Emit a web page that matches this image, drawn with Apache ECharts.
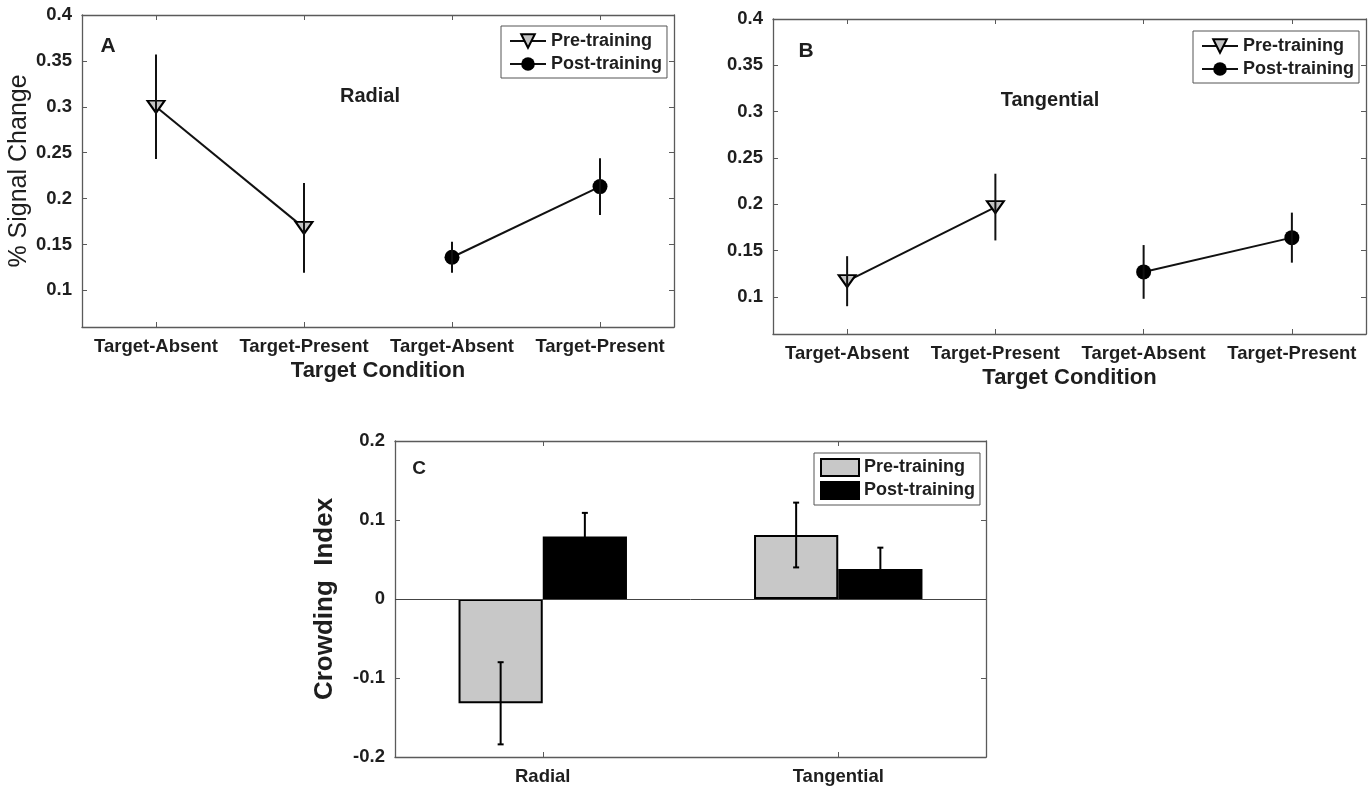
<!DOCTYPE html>
<html><head><meta charset="utf-8">
<script src="https://cdn.jsdelivr.net/npm/echarts@6/dist/echarts.min.js"></script>
<style>html,body{margin:0;padding:0;background:#fff}#chart{width:1368px;height:788px}</style>
</head><body><div id="chart"></div>
<script>
// ---- data ----
const conditionLabels = ['Target-Absent', 'Target-Present', 'Target-Absent', 'Target-Present'];
const radialPre = [0.300, 0.168];
const radialPreErr = [0.057, 0.049];
const radialPost = [0.136, 0.213];
const radialPostErr = [0.017, 0.031];
const tangPre = [0.117, 0.197];
const tangPreErr = [0.027, 0.036];
const tangPost = [0.127, 0.164];
const tangPostErr = [0.029, 0.027];
const crowdCategories = ['Radial', 'Tangential'];
const crowdPre = [-0.132, 0.081];
const crowdPreErr = [0.052, 0.041];
const crowdPost = [0.079, 0.038];
const crowdPostErr = [0.030, 0.027];
const signalTicks = [0.1, 0.15, 0.2, 0.25, 0.3, 0.35, 0.4];
const crowdTicks = [-0.2, -0.1, 0, 0.1, 0.2];

// ---- style ----
const FONT = '"Liberation Sans", Arial, Helvetica, sans-serif';
const AXIS_COLOR = '#5a5a5a';
const TEXT_COLOR = '#1e1e1e';
const BAR_FRAC = 0.285;
const fmt = v => String(parseFloat((+v).toFixed(2)));

function placed(vals, start) {
  const arr = conditionLabels.map(() => '-');
  vals.forEach((v, i) => { arr[start + i] = v; });
  return arr;
}
function errData(vals, errs, start) {
  return vals.map((v, i) => [start + i, v - errs[i], v + errs[i]]);
}
function vErr(params, api) {
  const x = api.value(0);
  const a = api.coord([x, api.value(1)]);
  const b = api.coord([x, api.value(2)]);
  return { type: 'line', shape: { x1: a[0], y1: a[1], x2: b[0], y2: b[1] },
           style: { stroke: '#111', lineWidth: 2 } };
}
function barErr(sign) {
  return function (params, api) {
    const x = api.value(0);
    const bw = api.size([1, 0])[0] * BAR_FRAC;
    const a = api.coord([x, api.value(1)]);
    const b = api.coord([x, api.value(2)]);
    const cx = a[0] + sign * bw / 2;
    const cap = 3;
    const st = { stroke: '#000', lineWidth: 2 };
    return { type: 'group', children: [
      { type: 'line', shape: { x1: cx, y1: a[1], x2: cx, y2: b[1] }, style: st },
      { type: 'line', shape: { x1: cx - cap, y1: a[1], x2: cx + cap, y2: a[1] }, style: st },
      { type: 'line', shape: { x1: cx - cap, y1: b[1], x2: cx + cap, y2: b[1] }, style: st }
    ] };
  };
}

const grids = [
  { left: 82, top: 15, width: 592, height: 312 },
  { left: 773, top: 19, width: 593, height: 315 },
  { left: 395, top: 441, width: 591, height: 316 }
];

const labelStyle = { fontFamily: FONT, fontSize: 18.5, fontWeight: 'bold', color: TEXT_COLOR };
const axisLine = { show: true, onZero: false, lineStyle: { color: AXIS_COLOR, width: 1.3 } };

function catAxes(gi, data, withName) {
  return [
    { type: 'category', gridIndex: gi, data: data, position: 'bottom',
      axisLine: axisLine,
      axisTick: { show: true, inside: true, alignWithLabel: true, length: 5, lineStyle: { color: AXIS_COLOR } },
      axisLabel: Object.assign({ margin: 10, interval: 0 }, labelStyle),
      splitLine: { show: false },
      name: withName ? 'Target Condition' : '', nameLocation: 'middle', nameGap: 33,
      nameTextStyle: { fontFamily: FONT, fontSize: 22, fontWeight: 'bold', color: TEXT_COLOR } },
    { type: 'category', gridIndex: gi, data: data, position: 'top',
      axisLine: axisLine,
      axisTick: { show: true, inside: true, alignWithLabel: true, length: 5, lineStyle: { color: AXIS_COLOR } },
      axisLabel: { show: false }, splitLine: { show: false } }
  ];
}
function valAxes(gi, min, max, ticks, name, nameOpts) {
  const base = { type: 'value', gridIndex: gi, min: min, max: max, scale: true, splitLine: { show: false }, axisLine: axisLine };
  return [
    Object.assign({}, base, { position: 'left',
      axisTick: { show: true, inside: true, length: 5, customValues: ticks, lineStyle: { color: AXIS_COLOR } },
      axisLabel: Object.assign({ margin: 10, customValues: ticks, formatter: fmt }, labelStyle),
      name: name || '', nameLocation: 'middle', nameRotate: 90,
      nameGap: nameOpts ? nameOpts.gap : 0,
      nameTextStyle: nameOpts ? nameOpts.style : {} }),
    Object.assign({}, base, { position: 'right',
      axisTick: { show: true, inside: true, length: 5, customValues: ticks, lineStyle: { color: AXIS_COLOR } },
      axisLabel: { show: false } })
  ];
}

const xAxes = [].concat(catAxes(0, conditionLabels, true), catAxes(1, conditionLabels, true), catAxes(2, crowdCategories, false));
const yAxes = [].concat(
  valAxes(0, 0.06, 0.4, signalTicks, '% Signal Change',
    { gap: 47, style: { fontFamily: FONT, fontSize: 25, fontWeight: 'normal', color: TEXT_COLOR } }),
  valAxes(1, 0.06, 0.4, signalTicks, '', null),
  valAxes(2, -0.2, 0.2, crowdTicks, 'Crowding  Index',
    { gap: 57, style: { fontFamily: FONT, fontSize: 26, fontWeight: 'bold', color: TEXT_COLOR } })
);

function lineSeries(prefix, gi, pre, preErr, post, postErr) {
  return [
    { type: 'line', name: prefix + '|Pre-training', xAxisIndex: gi * 2, yAxisIndex: gi * 2,
      data: placed(pre, 0), connectNulls: false,
      symbol: 'triangle', symbolRotate: 180, symbolSize: [17, 12],
      lineStyle: { color: '#111', width: 2 },
      itemStyle: { color: '#c4c4c4', borderColor: '#000', borderWidth: 2 }, z: 3 },
    { type: 'line', name: prefix + '|Post-training', xAxisIndex: gi * 2, yAxisIndex: gi * 2,
      data: placed(post, 2),
      symbol: 'circle', symbolSize: 15,
      lineStyle: { color: '#111', width: 2 },
      itemStyle: { color: '#000', borderColor: '#000', borderWidth: 0 }, z: 3 },
    { type: 'custom', name: prefix + '|errPre', xAxisIndex: gi * 2, yAxisIndex: gi * 2,
      data: errData(pre, preErr, 0), encode: { x: 0, y: [1, 2] }, renderItem: vErr, z: 5, silent: true },
    { type: 'custom', name: prefix + '|errPost', xAxisIndex: gi * 2, yAxisIndex: gi * 2,
      data: errData(post, postErr, 2), encode: { x: 0, y: [1, 2] }, renderItem: vErr, z: 5, silent: true }
  ];
}

const series = [].concat(
  lineSeries('A', 0, radialPre, radialPreErr, radialPost, radialPostErr),
  lineSeries('B', 1, tangPre, tangPreErr, tangPost, tangPostErr),
  [
    { type: 'bar', name: 'C|Pre-training', xAxisIndex: 4, yAxisIndex: 4, data: crowdPre,
      barWidth: (BAR_FRAC * 100) + '%', barGap: '0%',
      itemStyle: { color: '#c8c8c8', borderColor: '#000', borderWidth: 2 },
      markLine: { silent: true, symbol: ['none', 'none'], label: { show: false },
        lineStyle: { color: '#444', width: 1, type: 'solid' }, data: [{ yAxis: 0 }] } },
    { type: 'bar', name: 'C|Post-training', xAxisIndex: 4, yAxisIndex: 4, data: crowdPost,
      barWidth: (BAR_FRAC * 100) + '%', barGap: '0%',
      itemStyle: { color: '#000', borderColor: '#000', borderWidth: 2 } },
    { type: 'custom', name: 'C|errPre', xAxisIndex: 4, yAxisIndex: 4,
      data: crowdPre.map((v, i) => [i, v - crowdPreErr[i], v + crowdPreErr[i]]),
      encode: { x: 0, y: [1, 2] }, renderItem: barErr(-1), z: 5, silent: true },
    { type: 'custom', name: 'C|errPost', xAxisIndex: 4, yAxisIndex: 4,
      data: crowdPost.map((v, i) => [i, v - crowdPostErr[i], v + crowdPostErr[i]]),
      encode: { x: 0, y: [1, 2] }, renderItem: barErr(1), z: 5, silent: true }
  ]
);

const legendText = { fontFamily: FONT, fontSize: 18, fontWeight: 'bold', color: TEXT_COLOR };
function mkLegend(prefix, left, top, opts) {
  return Object.assign({
    left: left, top: top, orient: 'vertical', selectedMode: false,
    data: [prefix + '|Pre-training', prefix + '|Post-training'],
    formatter: n => n.split('|')[1],
    itemWidth: 36, itemHeight: 17, itemGap: 5, padding: [6, 5, 5, 8],
    borderColor: '#555', borderWidth: 1, backgroundColor: '#fff', borderRadius: 0,
    textStyle: legendText
  }, opts || {});
}

function txt(text, x, y, size) {
  return { type: 'text', x: x, y: y, silent: true,
    style: { text: text, fill: TEXT_COLOR, font: 'bold ' + size + 'px ' + FONT,
             textAlign: 'center', textVerticalAlign: 'middle' } };
}

const option = {
  animation: false,
  backgroundColor: '#fff',
  grid: grids,
  xAxis: xAxes,
  yAxis: yAxes,
  legend: [
    mkLegend('A', 501, 26),
    mkLegend('B', 1193, 31),
    mkLegend('C', 814, 453, { icon: 'rect', itemWidth: 38, itemHeight: 17, itemGap: 4, padding: [5, 5, 5, 6] })
  ],
  graphic: [
    txt('A', 108, 46, 21),
    txt('B', 806, 51, 21),
    txt('C', 419, 469, 19),
    txt('Radial', 370, 96, 20),
    txt('Tangential', 1050, 100, 20)
  ],
  series: series
};

const chart = echarts.init(document.getElementById('chart'), null, { renderer: 'canvas' });
chart.setOption(option);
</script>
</body></html>
